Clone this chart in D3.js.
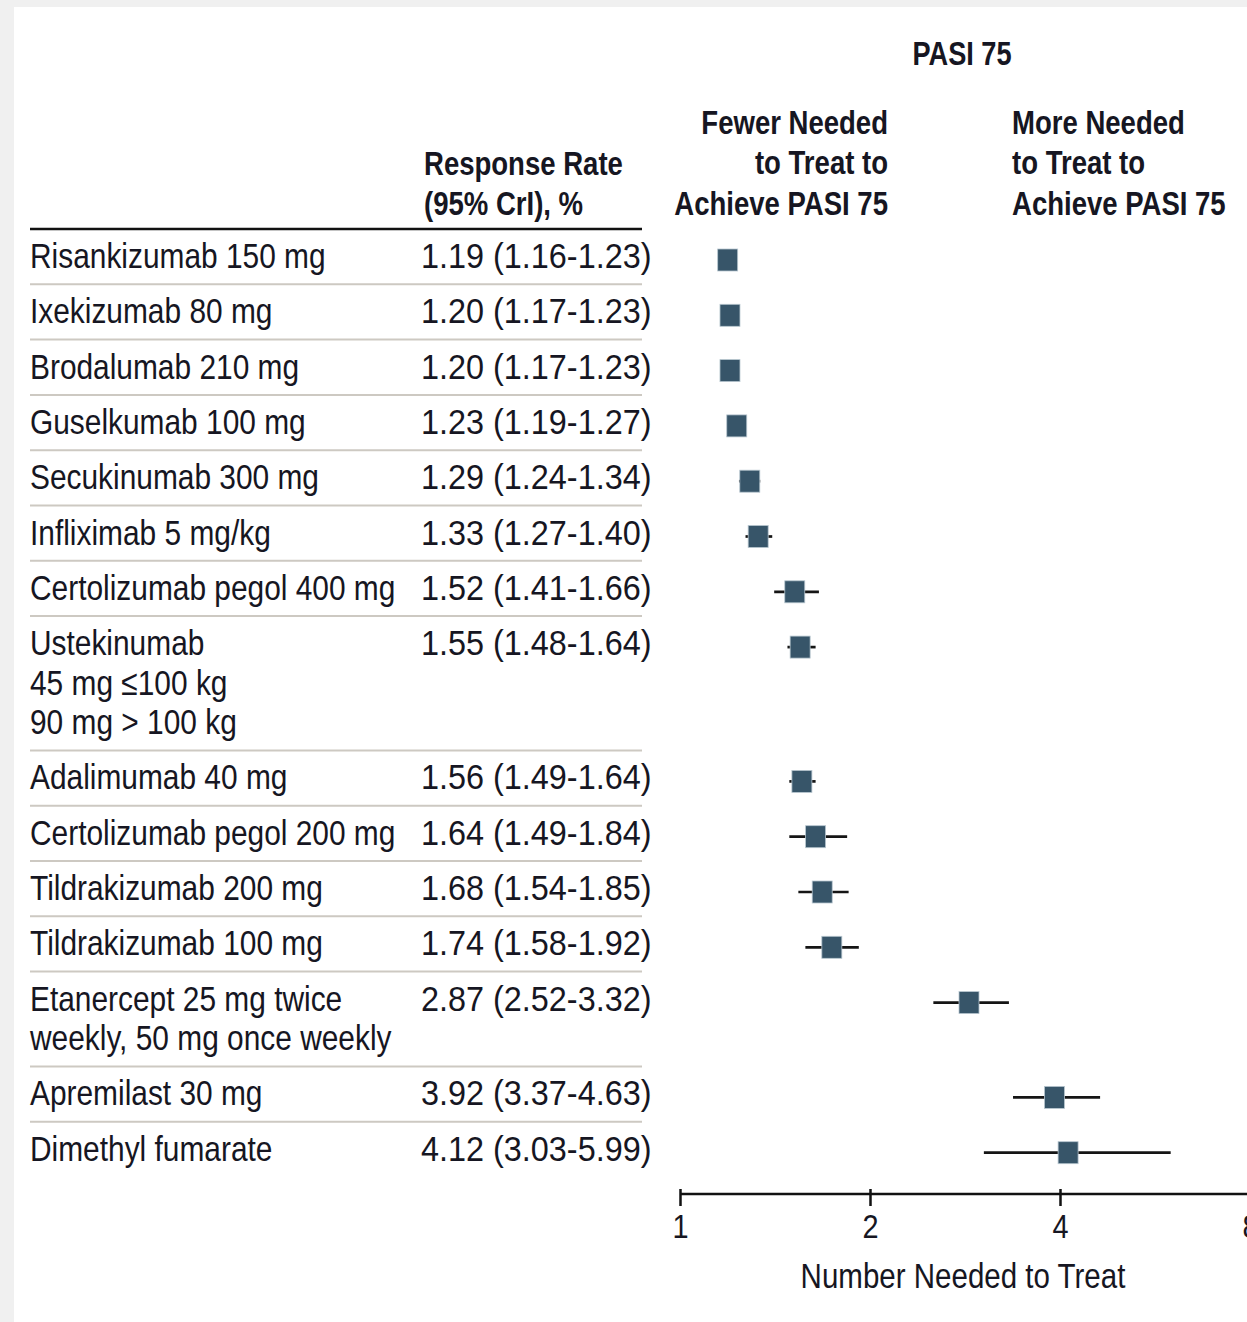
<!DOCTYPE html>
<html>
<head>
<meta charset="utf-8">
<script src="https://cdn.jsdelivr.net/npm/d3@7"></script>
<style>
  body { margin: 0; background: #f0f0f0; }
  svg { display: block; font-family: "Liberation Sans", Arial, sans-serif; }
</style>
</head>
<body>
<div id="chart"></div>
<script>
// treatments, one entry per row (multi-line labels split in lines)
const labels = [
  ["Risankizumab 150 mg"],
  ["Ixekizumab 80 mg"],
  ["Brodalumab 210 mg"],
  ["Guselkumab 100 mg"],
  ["Secukinumab 300 mg"],
  ["Infliximab 5 mg/kg"],
  ["Certolizumab pegol 400 mg"],
  ["Ustekinumab", "45 mg \u2264100 kg", "90 mg > 100 kg"],
  ["Adalimumab 40 mg"],
  ["Certolizumab pegol 200 mg"],
  ["Tildrakizumab 200 mg"],
  ["Tildrakizumab 100 mg"],
  ["Etanercept 25 mg twice", "weekly, 50 mg once weekly"],
  ["Apremilast 30 mg"],
  ["Dimethyl fumarate"]
];
const nnt   = [1.19, 1.20, 1.20, 1.23, 1.29, 1.33, 1.52, 1.55, 1.56, 1.64, 1.68, 1.74, 2.87, 3.92, 4.12];
const lower = [1.16, 1.17, 1.17, 1.19, 1.24, 1.27, 1.41, 1.48, 1.49, 1.49, 1.54, 1.58, 2.52, 3.37, 3.03];
const upper = [1.23, 1.23, 1.23, 1.27, 1.34, 1.40, 1.66, 1.64, 1.64, 1.84, 1.85, 1.92, 3.32, 4.63, 5.99];
const xTicks = [1, 2, 4, 8];

const W = 1247, H = 1322;
const svg = d3.select("#chart").append("svg")
  .attr("width", W).attr("height", H);

svg.append("rect").attr("x", 14).attr("y", 7)
  .attr("width", W).attr("height", H).attr("fill", "#fff");

const ink = "#161622";
const x = d3.scaleLog().base(2).domain([1, 8]).range([680, 1250]);

// no narrow font installed, so squeeze the text horizontally
const squeeze = (g, tx, ty, sx) => g.attr("transform", `translate(${tx},${ty}) scale(${sx},1)`);

// row layout: base height + extra per extra line
const tableTop = 229, rowBase = 55.3, lineGap = 39.5;
const heights = labels.map(l => rowBase + (l.length - 1) * lineGap);
const tops = heights.map((h, i) => tableTop + d3.sum(heights.slice(0, i)));

const rows = labels.map((l, i) => ({
  lines: l, nnt: nnt[i], lo: lower[i], hi: upper[i], top: tops[i], h: heights[i]
}));

// headers
svg.append("text").attr("text-anchor", "middle").attr("font-weight", "bold")
  .attr("font-size", 34).attr("fill", ink).text("PASI 75")
  .call(squeeze, 962, 65, 0.8);

const hdr = (lines, xx, anchor, y0) => {
  const t = svg.append("text").attr("text-anchor", anchor)
    .attr("font-weight", "bold").attr("font-size", 34).attr("fill", ink)
    .call(squeeze, xx, y0, 0.81);
  lines.forEach((s, i) => t.append("tspan").attr("x", 0).attr("y", i * 40.5).text(s));
};
hdr(["Fewer Needed", "to Treat to", "Achieve PASI 75"], 888, "end", 134);
hdr(["More Needed", "to Treat to", "Achieve PASI 75"], 1012, "start", 134);
hdr(["Response Rate", "(95% CrI), %"], 424, "start", 175);

svg.append("line").attr("x1", 30).attr("x2", 642)
  .attr("y1", tableTop).attr("y2", tableTop)
  .attr("stroke", "#111").attr("stroke-width", 2.5);

// row separators
svg.append("g").selectAll("line")
  .data(rows.slice(0, -1)).join("line")
  .attr("x1", 30).attr("x2", 642)
  .attr("y1", d => d.top + d.h).attr("y2", d => d.top + d.h)
  .attr("stroke", "#cdc9c2").attr("stroke-width", 2);

// labels
const lab = svg.append("g").selectAll("text")
  .data(rows).join("text")
  .attr("font-size", 36).attr("fill", ink)
  .each(function(d) { squeeze(d3.select(this), 30, d.top + 39, 0.83); });
lab.selectAll("tspan").data(d => d.lines.map((s, j) => ({ s, j })))
  .join("tspan")
  .attr("x", 0).attr("y", d => d.j * lineGap)
  .text(d => d.s);

// values
const fmt = d3.format(".2f");
svg.append("g").selectAll("text")
  .data(rows).join("text")
  .attr("font-size", 36).attr("fill", ink)
  .each(function(d) { squeeze(d3.select(this), 421, d.top + 39, 0.9); })
  .text(d => `${fmt(d.nnt)} (${fmt(d.lo)}-${fmt(d.hi)})`);

// CI lines and squares
const mk = svg.append("g");
mk.selectAll("line").data(rows).join("line")
  .attr("x1", d => x(d.lo)).attr("x2", d => x(d.hi))
  .attr("y1", d => d.top + 31).attr("y2", d => d.top + 31)
  .attr("stroke", "#151515").attr("stroke-width", 2.7);
mk.selectAll("rect").data(rows).join("rect")
  .attr("x", d => x(d.nnt) - 10).attr("y", d => d.top + 20)
  .attr("width", 20).attr("height", 22)
  .attr("fill", "#375569").attr("stroke", "#b7c6cf").attr("stroke-width", 0.8);

// axis
const axis = svg.append("g").attr("transform", "translate(0,1194)")
  .call(d3.axisBottom(x).tickValues(xTicks).tickFormat(d3.format("d")).tickSize(12).tickPadding(8));
axis.select(".domain").attr("stroke", "#111").attr("stroke-width", 2.5)
  .attr("d", `M${x(1)},0H${x(8)}`);
axis.selectAll(".tick line").attr("stroke", "#111").attr("stroke-width", 2.5).attr("y1", -5);
axis.selectAll(".tick text").attr("font-size", 34).attr("fill", ink)
  .attr("font-family", "Liberation Sans, Arial, sans-serif")
  .attr("transform", "scale(0.85,1)");

svg.append("text").attr("text-anchor", "middle").attr("font-size", 36).attr("fill", ink)
  .text("Number Needed to Treat")
  .call(squeeze, 963, 1288, 0.82);
</script>
</body>
</html>
